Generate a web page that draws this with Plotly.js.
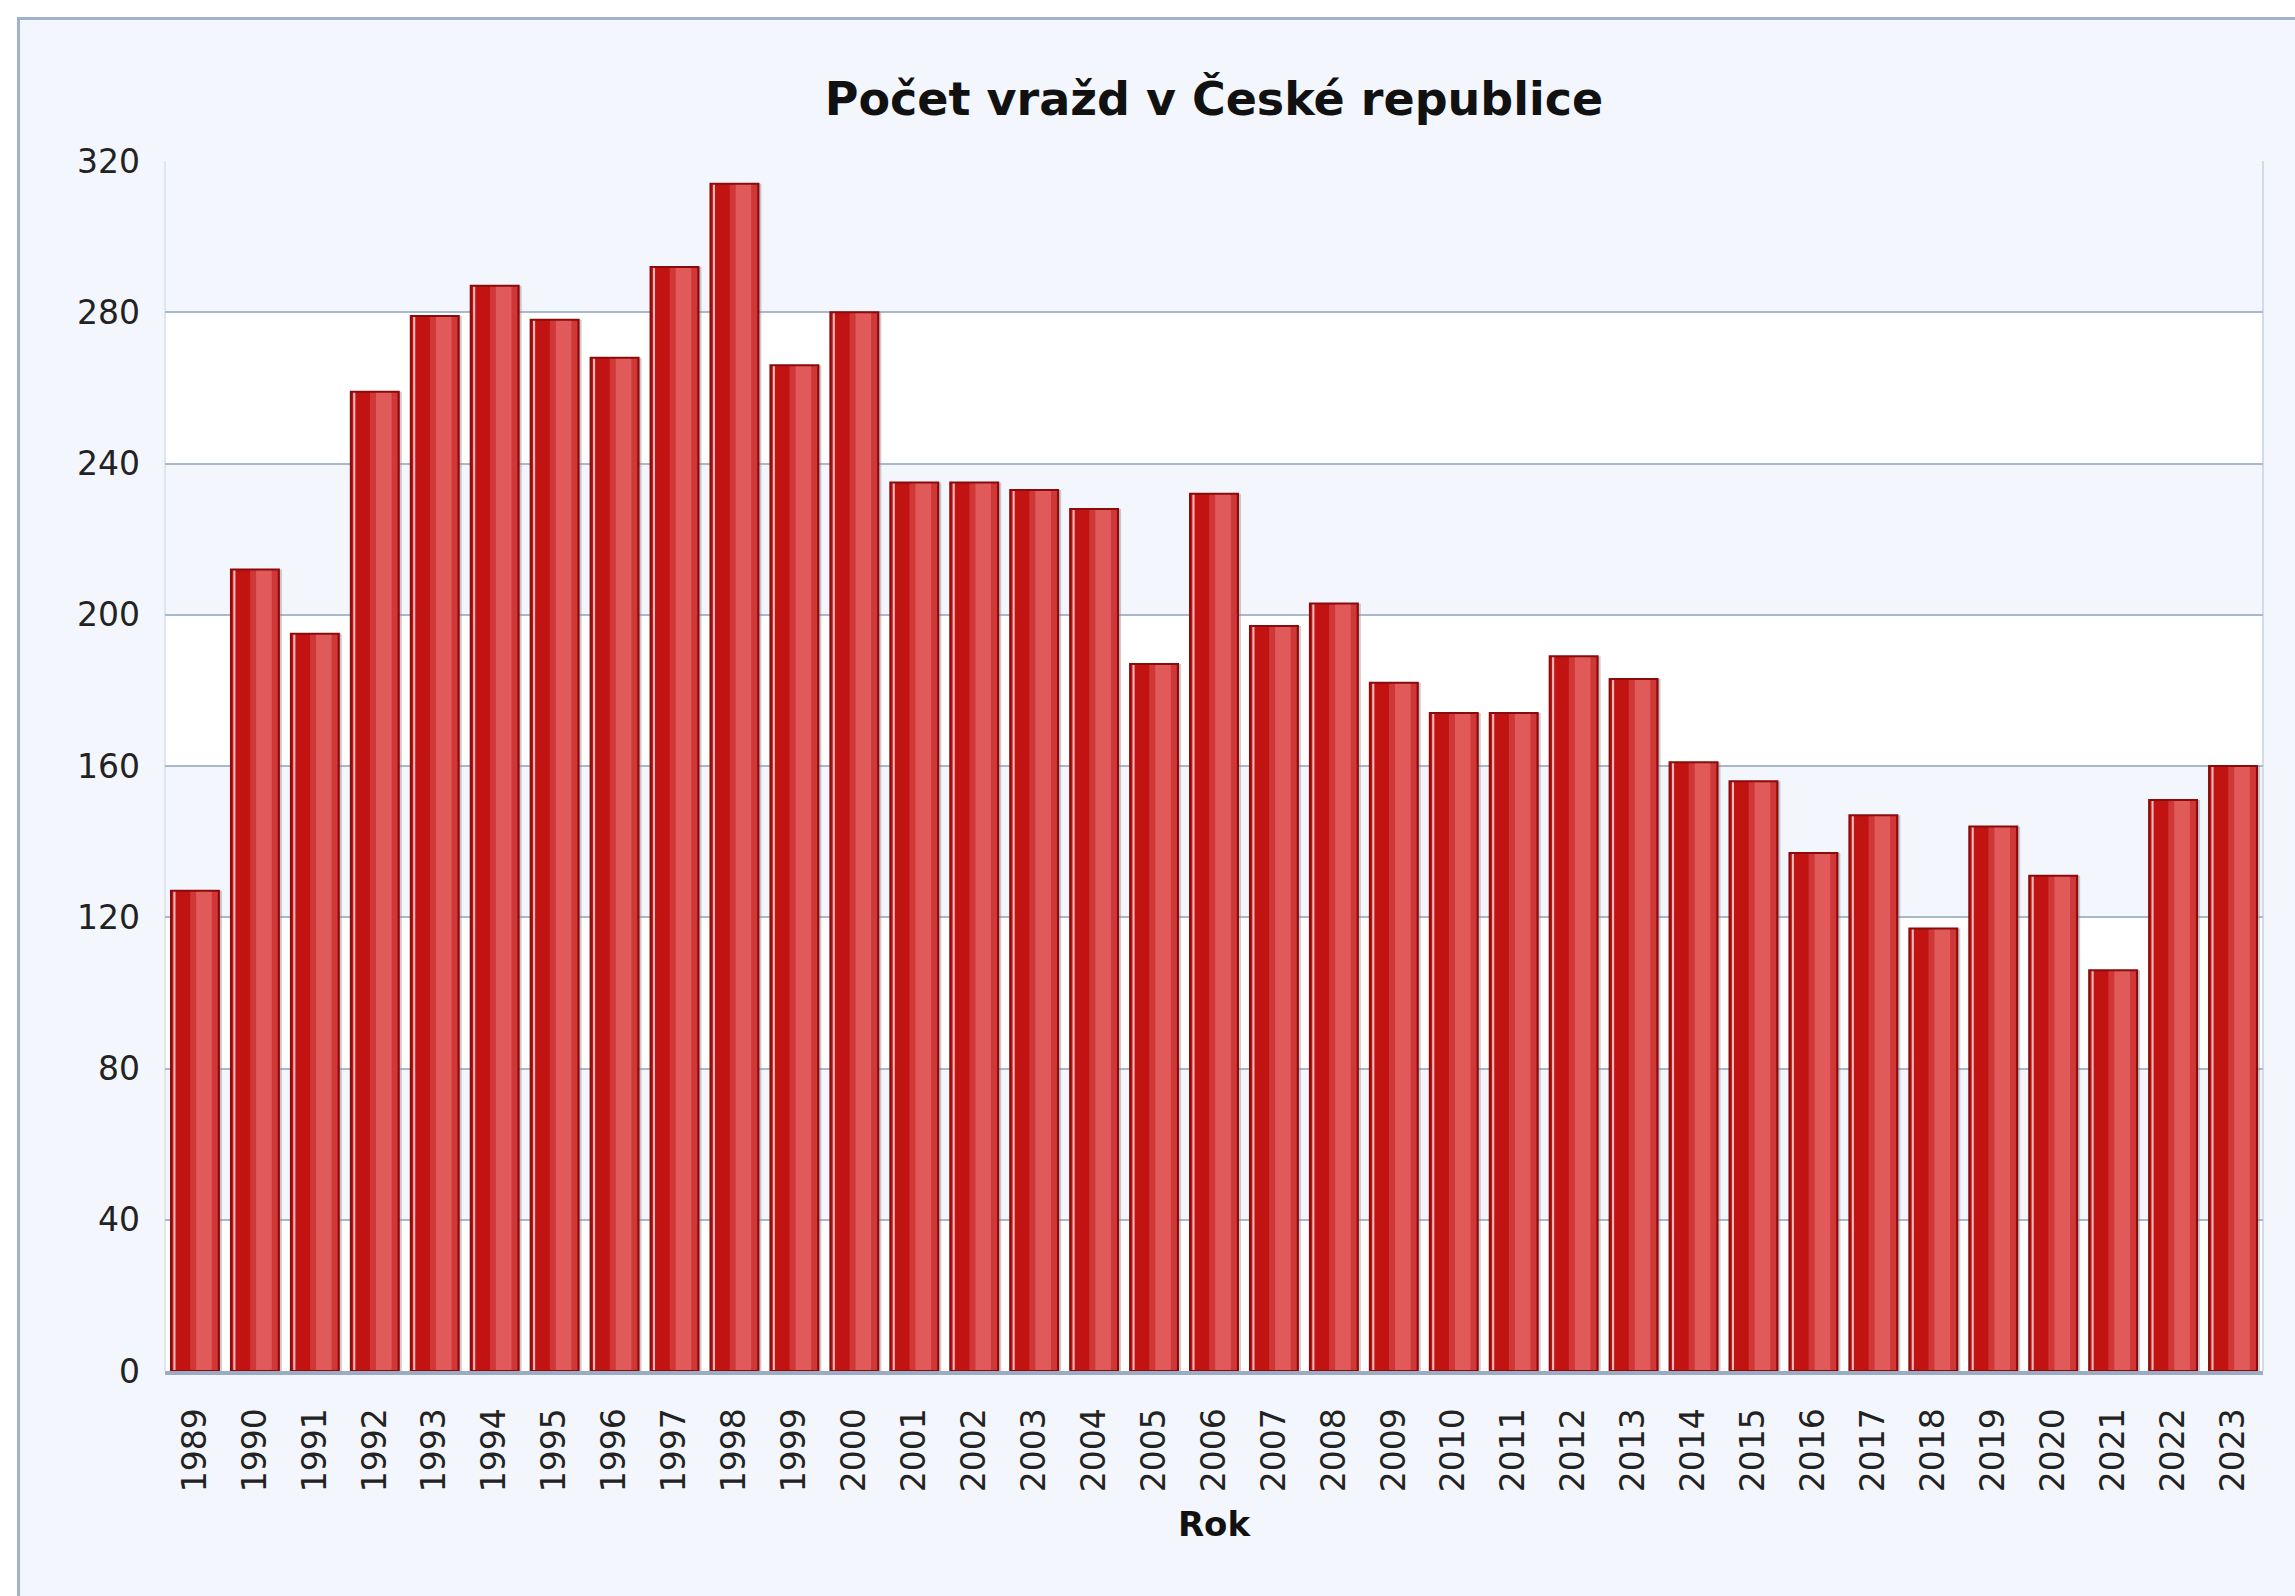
<!DOCTYPE html>
<html>
<head>
<meta charset="utf-8">
<script src="https://cdn.plot.ly/plotly-3.0.1.min.js"></script>
<style>
  html, body { margin: 0; padding: 0; background: #ffffff; overflow: hidden; }
  #frame { position: absolute; left: 17px; top: 17px; width: 2400px; height: 1700px;
           border-left: 3px solid #9fb2cc; border-top: 3px solid #9fb2cc; background: #f3f7fd; }
  #chart { position: absolute; left: 0; top: 0; width: 2295px; height: 1596px; }
</style>
</head>
<body>
<div id="frame"></div>
<div id="chart"></div>
<script>
const years = ['1989','1990','1991','1992','1993','1994','1995','1996','1997','1998','1999','2000',
  '2001','2002','2003','2004','2005','2006','2007','2008','2009','2010','2011','2012','2013',
  '2014','2015','2016','2017','2018','2019','2020','2021','2022','2023'];
const murders = [127,212,195,259,279,287,278,268,292,314,266,280,
  235,235,233,228,187,232,197,203,182,174,174,189,183,
  161,156,137,147,117,144,131,106,151,160];
const yTicks = [0,40,80,120,160,200,240,280,320];
const chartTitle = 'Počet vražd v České republice';
const xTitle = 'Rok';

const FONT = 'DejaVu Sans, Verdana, sans-serif';

// alternating horizontal bands between gridlines
const shapes = [];
for (let i = 0; i < yTicks.length - 1; i++) {
  if (i % 2 === 1) {
    shapes.push({type:'rect', xref:'paper', yref:'y', x0:0, x1:1,
      y0:yTicks[i], y1:yTicks[i+1], fillcolor:'#f3f7fd', line:{width:0}, layer:'below'});
  }
}

function barTrace(width, offset, color, line) {
  return {type:'bar', x:years, y:murders, width:width, offset:offset,
    marker:{color:color, line:line || {width:0}}, hoverinfo:'skip'};
}

const traces = [
  barTrace(0.05, 0.4, 'rgba(140,140,150,0.45)'),          // soft shadow right of bar
  barTrace(0.8, -0.4, '#c21313'),                          // base
  barTrace(0.46, -0.08, 'rgba(226,100,100,0.45)'),         // broad shine
  barTrace(0.26, 0.02, 'rgba(236,120,120,0.55)'),          // core shine
  barTrace(0.035, -0.36, 'rgba(255,215,215,0.85)'),        // left edge highlight
  barTrace(0.8, -0.4, 'rgba(0,0,0,0)', {width:2, color:'#8a0b0b'}) // outline
];

const layout = {
  width: 2295, height: 1596,
  paper_bgcolor: 'rgba(0,0,0,0)',
  plot_bgcolor: '#ffffff',
  margin: {l:165, r:32, t:161, b:225},
  barmode: 'overlay',
  showlegend: false,
  title: {text: '<b>' + chartTitle + '</b>', x: 0.5, xref: 'paper', xanchor: 'center',
          y: 1 - 99/1596, yanchor: 'middle',
          font: {family: FONT, size: 46, color: '#111111'}},
  xaxis: {
    type: 'category', tickvals: years, ticktext: years,
    tickangle: -90, ticks: '', ticklabelstandoff: 20,
    tickfont: {family: FONT, size: 33, color: '#222222'},
    showgrid: false, zeroline: false,
    showline: true, linecolor: '#9aabc3', linewidth: 4, mirror: false,
    range: [-0.5, years.length - 0.5],
    title: {text: '<b>' + xTitle + '</b>', standoff: 22,
            font: {family: FONT, size: 34, color: '#111111'}}
  },
  yaxis: {
    range: [0, 320], tickvals: yTicks, ticktext: yTicks.map(String),
    ticks: '', ticklabelstandoff: 24,
    tickfont: {family: FONT, size: 33, color: '#222222'},
    showgrid: true, gridcolor: '#a9b8cb', gridwidth: 2,
    zeroline: false, showline: false
  },
  shapes: shapes.concat([
    {type:'line', xref:'paper', yref:'paper', x0:1, x1:1, y0:0, y1:1,
     line:{color:'#d3dbe6', width:2}, layer:'below'},
    {type:'line', xref:'paper', yref:'paper', x0:0, x1:0, y0:0, y1:1,
     line:{color:'#dfe6ef', width:2}, layer:'below'}
  ])
};

Plotly.newPlot('chart', traces, layout, {staticPlot: true, displayModeBar: false});
</script>
</body>
</html>
